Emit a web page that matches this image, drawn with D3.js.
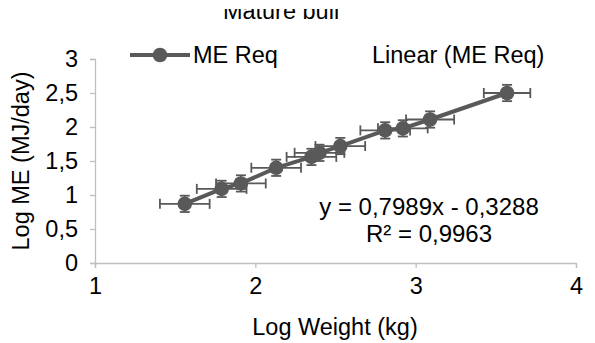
<!DOCTYPE html>
<html><head><meta charset="utf-8">
<script src="https://cdn.jsdelivr.net/npm/d3@7"></script>
<style>body{margin:0;background:#fff}svg{display:block}text{font-family:"Liberation Sans",Arial,sans-serif}</style>
</head><body>
<script>
const logWeight = [1.56, 1.79, 1.91, 2.13, 2.35, 2.40, 2.53, 2.81, 2.92, 3.09, 3.57];
const logME     = [0.87, 1.09, 1.17, 1.40, 1.56, 1.62, 1.72, 1.95, 1.98, 2.11, 2.50];
const xError    = [0.155, 0.155, 0.155, 0.155, 0.155, 0.155, 0.155, 0.155, 0.155, 0.15, 0.145];
const yError    = [0.12, 0.12, 0.12, 0.12, 0.12, 0.12, 0.12, 0.12, 0.12, 0.12, 0.12];
const xTicks = [1, 2, 3, 4];
const yTicks = [0, 0.5, 1, 1.5, 2, 2.5, 3];
const title = "Mature bull";
const seriesName = "ME Req";
const trendName = "Linear (ME Req)";
const equation = ["y = 0,7989x - 0,3288", "R² = 0,9963"];

const W = 595, H = 343, C = "#595959", FS = 23.5;
const svg = d3.select("body").append("svg").attr("width", W).attr("height", H);
const x = d3.scaleLinear().domain([1, 4]).range([95, 576]);
const y = d3.scaleLinear().domain([0, 3]).range([263, 59]);
const fmt = d => String(d).replace(".", ",");

// title (partly cut at top)
svg.append("defs").append("clipPath").attr("id", "tc").append("rect")
  .attr("x", 0).attr("y", 9).attr("width", W).attr("height", 30);
svg.append("text").attr("clip-path", "url(#tc)").attr("x", 281).attr("y", 19)
  .attr("text-anchor", "middle").attr("font-size", FS).attr("fill", "#000").text(title);

// axes
const xa = svg.append("g").attr("transform", `translate(0,${y(0)})`)
  .call(d3.axisBottom(x).tickValues(xTicks).tickSize(5).tickPadding(9).tickFormat(fmt));
const ya = svg.append("g").attr("transform", `translate(${x(1)},0)`)
  .call(d3.axisLeft(y).tickValues(yTicks).tickSize(5).tickPadding(12).tickFormat(fmt));
[xa, ya].forEach(a => {
  a.select(".domain").attr("stroke", "#bfbfbf").attr("stroke-width", 1.3);
  a.selectAll(".tick line").attr("stroke", "#bfbfbf").attr("stroke-width", 1.3);
  a.selectAll(".tick text").attr("font-size", FS).attr("fill", "#000")
   .attr("font-family", "Liberation Sans, Arial, sans-serif");
});

// axis titles
svg.append("text").attr("x", 335).attr("y", 335).attr("text-anchor", "middle")
  .attr("font-size", FS).attr("fill", "#000").text("Log Weight (kg)");
svg.append("text").attr("transform", "translate(29,161) rotate(-90)").attr("text-anchor", "middle")
  .attr("font-size", FS).attr("fill", "#000").text("Log ME (MJ/day)");

const pts = logWeight.map((v, i) => ({x: v, y: logME[i], ex: xError[i], ey: yError[i]}));

// error bars
const eb = svg.append("g").attr("stroke", C).attr("stroke-width", 1.8);
pts.forEach(p => {
  const cx = x(p.x), cy = y(p.y);
  eb.append("line").attr("x1", x(p.x - p.ex)).attr("x2", x(p.x + p.ex)).attr("y1", cy).attr("y2", cy);
  eb.append("line").attr("x1", x(p.x - p.ex)).attr("x2", x(p.x - p.ex)).attr("y1", cy - 5).attr("y2", cy + 5);
  eb.append("line").attr("x1", x(p.x + p.ex)).attr("x2", x(p.x + p.ex)).attr("y1", cy - 5).attr("y2", cy + 5);
  eb.append("line").attr("x1", cx).attr("x2", cx).attr("y1", y(p.y - p.ey)).attr("y2", y(p.y + p.ey));
  eb.append("line").attr("x1", cx - 5).attr("x2", cx + 5).attr("y1", y(p.y - p.ey)).attr("y2", y(p.y - p.ey));
  eb.append("line").attr("x1", cx - 5).attr("x2", cx + 5).attr("y1", y(p.y + p.ey)).attr("y2", y(p.y + p.ey));
});

// series line + markers
svg.append("path").datum(pts).attr("fill", "none").attr("stroke", C).attr("stroke-width", 4)
  .attr("stroke-linejoin", "round").attr("d", d3.line().x(d => x(d.x)).y(d => y(d.y)));
svg.append("g").selectAll("circle").data(pts).join("circle")
  .attr("cx", d => x(d.x)).attr("cy", d => y(d.y)).attr("r", 7.3).attr("fill", C);

// legend
const lg = svg.append("g");
lg.append("line").attr("x1", 130).attr("x2", 190).attr("y1", 55).attr("y2", 55)
  .attr("stroke", C).attr("stroke-width", 4);
lg.append("circle").attr("cx", 160).attr("cy", 55).attr("r", 7.3).attr("fill", C);
lg.append("text").attr("x", 193).attr("y", 63).attr("font-size", FS).attr("fill", "#000").text(seriesName);
lg.append("text").attr("x", 372).attr("y", 63).attr("font-size", FS).attr("fill", "#000").text(trendName);

// equation
svg.append("text").attr("x", 429).attr("y", 215).attr("text-anchor", "middle")
  .attr("font-size", 24).attr("fill", "#000").text(equation[0]);
svg.append("text").attr("x", 429).attr("y", 242).attr("text-anchor", "middle")
  .attr("font-size", 24).attr("fill", "#000").text(equation[1]);
</script>
</body></html>
